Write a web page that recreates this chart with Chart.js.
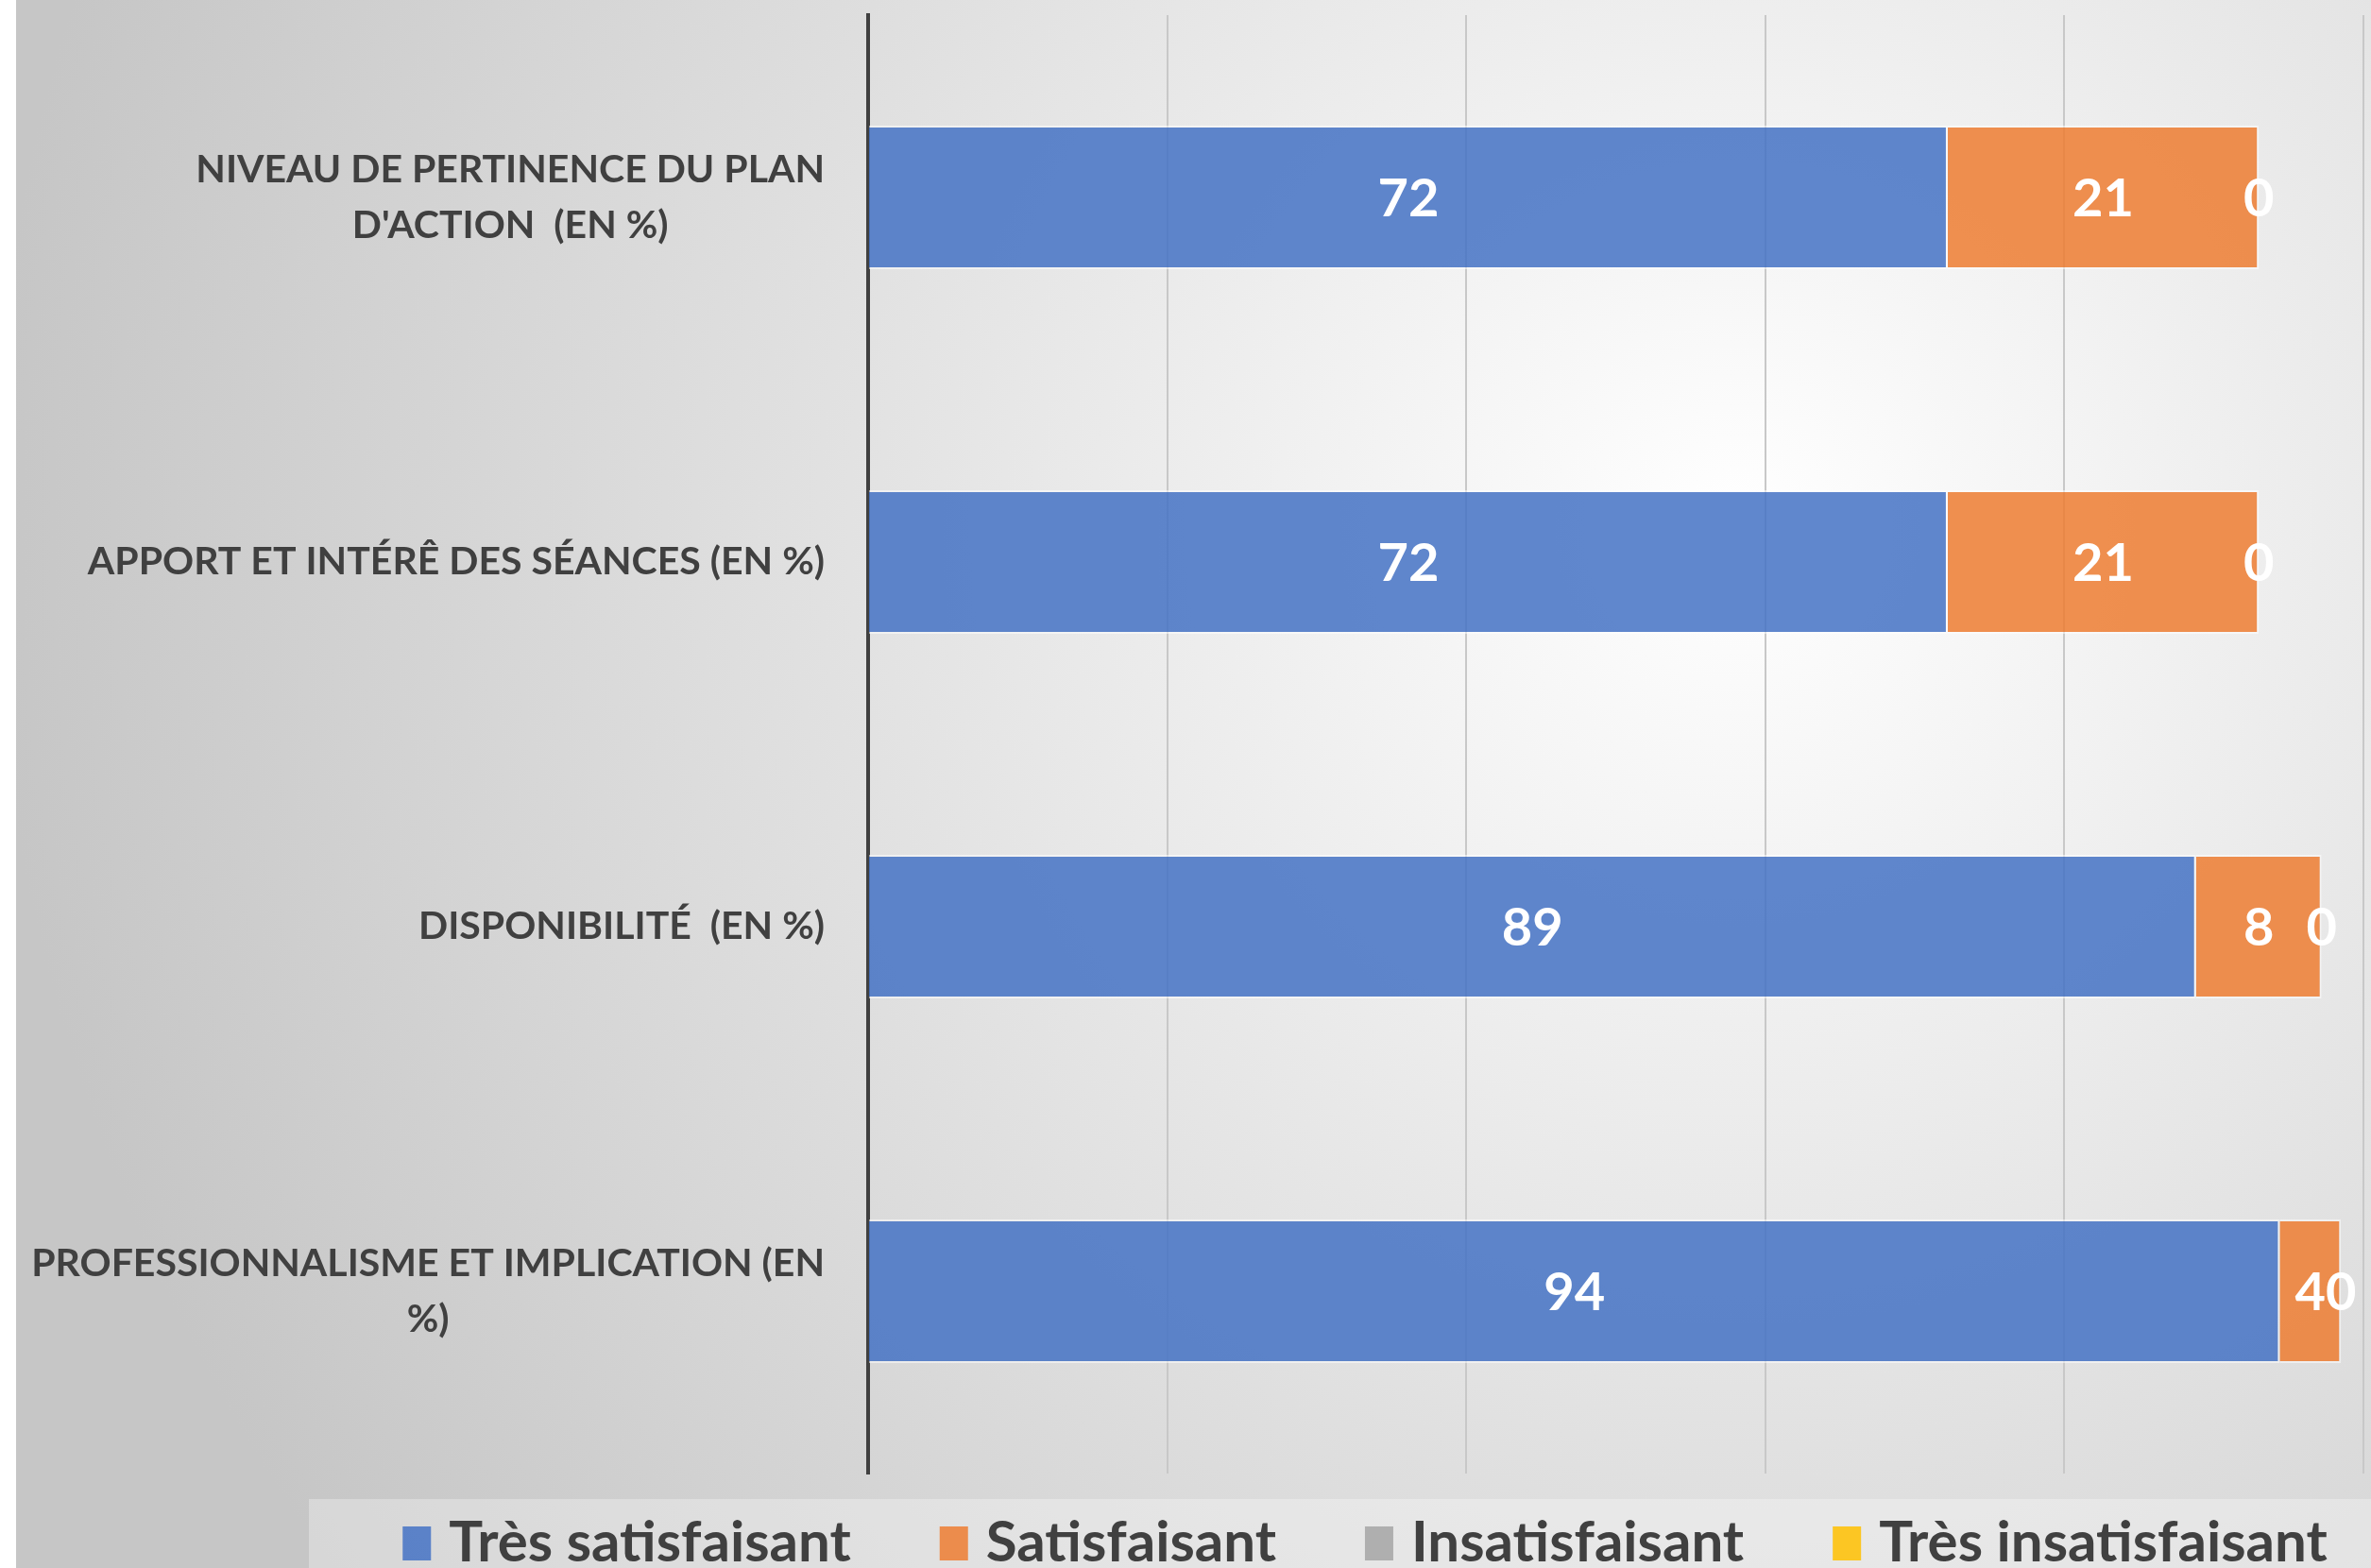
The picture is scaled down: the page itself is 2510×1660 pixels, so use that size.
<!DOCTYPE html>
<html>
<head>
<meta charset="utf-8">
<script src="https://cdn.jsdelivr.net/npm/chart.js@4.4.1/dist/chart.umd.min.js"></script>
<style>
html, body { margin: 0; padding: 0; overflow: hidden; background: #fff; }
</style>
</head>
<body>
<canvas id="chart" width="2510" height="1660"></canvas>
<script>
// categories (one array of lines per label, like in the original)
var categories = [
  ["NIVEAU DE PERTINENCE DU PLAN", "D'ACTION  (EN %)"],
  ["APPORT ET INTÉRÊ DES SÉANCES (EN %)"],
  ["DISPONIBILITÉ  (EN %)"],
  ["PROFESSIONNALISME ET IMPLICATION (EN", "%)"]
];
var seriesNames = ["Très satisfaisant", "Satisfaisant", "Insatisfaisant", "Très insatisfaisant"];
// labels show them rounded
var tresSatisfaisant = [72.2, 72.2, 88.8, 94.4];
var satisfaisant = [20.8, 20.8, 8.4, 4.1];
var insatisfaisant = [0, 0, 0, 0];
var tresInsatisfaisant = [0, 0, 0, 0];
var xMin = 0, xMax = 100, xStep = 20;

var colors = ["rgba(68,114,196,0.85)", "rgba(237,125,49,0.85)", "rgba(165,165,165,0.85)", "rgba(255,192,0,0.85)"];
var FONT = "Lato, 'Open Sans', sans-serif";

// background, value labels, category labels and legend
var decor = {
  id: 'decor',
  beforeDraw: function(chart) {
    var ctx = chart.ctx;
    ctx.save();
    ctx.fillStyle = '#fff';
    ctx.fillRect(0, 0, chart.width, chart.height);
    var g = ctx.createRadialGradient(1840, 560, 0, 1840, 560, 1850);
    g.addColorStop(0, '#ffffff');
    g.addColorStop(1, '#c6c6c6');
    ctx.fillStyle = g;
    ctx.fillRect(17, 0, chart.width - 17, chart.height);
    ctx.fillStyle = 'rgba(255,255,255,0.3)';
    ctx.fillRect(327, 1587, chart.width - 327, chart.height - 1587);
    ctx.restore();
  },
  afterDatasetsDraw: function(chart) {
    var ctx = chart.ctx;
    ctx.save();
    // values
    ctx.font = 'bold 56px ' + FONT;
    ctx.fillStyle = '#fff';
    ctx.textAlign = 'center';
    ctx.textBaseline = 'middle';
    for (var d = 0; d < 3; d++) {
      var meta = chart.getDatasetMeta(d);
      meta.data.forEach(function(bar, i) {
        var p = bar.getCenterPoint();
        ctx.fillText(Math.round(chart.data.datasets[d].data[i]), p.x, p.y + 2);
      });
    }
    // category labels
    var y = chart.scales.y;
    ctx.font = 'bold 41px ' + FONT;
    ctx.fillStyle = '#404040';
    categories.forEach(function(lines, i) {
      var w = 0;
      lines.forEach(function(t) { w = Math.max(w, ctx.measureText(t).width); });
      var cx = chart.chartArea.left - 46 - w / 2;
      var cy = y.getPixelForValue(i);
      lines.forEach(function(t, k) {
        ctx.fillText(t, cx, cy + (k - (lines.length - 1) / 2) * 59);
      });
    });
    ctx.restore();
  },
  afterDraw: function(chart) {
    var ctx = chart.ctx;
    ctx.save();
    ctx.font = 'bold 60px ' + FONT;
    ctx.textAlign = 'left';
    ctx.textBaseline = 'middle';
    var boxW = 30, boxH = 36, gap = 19, sep = 94;
    var total = 0;
    seriesNames.forEach(function(n, i) {
      total += boxW + gap + ctx.measureText(n).width + (i ? sep : 0);
    });
    var x = 1445 - total / 2;
    var cy = 1634;
    seriesNames.forEach(function(n, i) {
      ctx.fillStyle = colors[i];
      ctx.fillRect(x, cy - boxH / 2, boxW, boxH);
      ctx.fillStyle = '#404040';
      ctx.fillText(n, x + boxW + gap, cy);
      x += boxW + gap + ctx.measureText(n).width + sep;
    });
    ctx.restore();
  }
};

var ctx = document.getElementById("chart");
var chart = new Chart(ctx, {
  type: 'bar',
  data: {
    labels: categories,
    datasets: [
      { label: seriesNames[0], data: tresSatisfaisant, backgroundColor: colors[0], borderColor: 'rgba(255,255,255,0.5)', borderWidth: 2 },
      { label: seriesNames[1], data: satisfaisant, backgroundColor: colors[1], borderColor: 'rgba(255,255,255,0.5)', borderWidth: 2 },
      { label: seriesNames[2], data: insatisfaisant, backgroundColor: colors[2], borderWidth: 0 },
      { label: seriesNames[3], data: tresInsatisfaisant, backgroundColor: colors[3], borderWidth: 0 }
    ]
  },
  options: {
    indexAxis: 'y',
    responsive: false,
    animation: false,
    devicePixelRatio: 1,
    layout: { padding: { top: 16, right: 8, bottom: 100, left: 0 } },
    datasets: { bar: { barPercentage: 0.394, categoryPercentage: 1 } },
    plugins: { legend: { display: false }, tooltip: { enabled: false } },
    scales: {
      x: {
        stacked: true,
        min: xMin, max: xMax,
        ticks: { display: false, stepSize: xStep },
        grid: {
          drawTicks: false,
          lineWidth: 2,
          color: function(c) { return c.tick && c.tick.value === 0 ? 'rgba(0,0,0,0)' : '#c8c8c8'; }
        },
        border: { display: false }
      },
      y: {
        stacked: true,
        ticks: { display: false },
        grid: { display: false, drawTicks: false },
        border: { display: true, color: '#404040', width: 4 },
        afterFit: function(scale) { scale.width = 919; }
      }
    }
  },
  plugins: [decor]
});
</script>
</body>
</html>
